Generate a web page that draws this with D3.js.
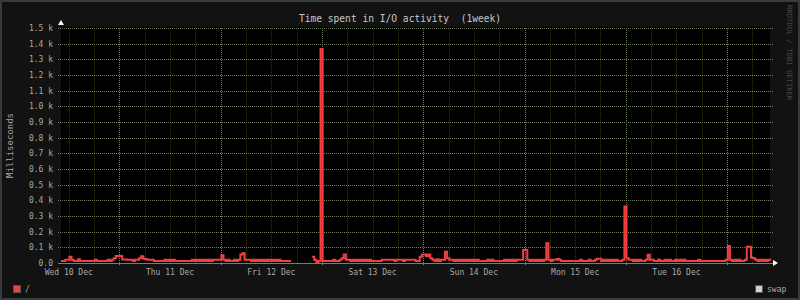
<!DOCTYPE html>
<html>
<head>
<meta charset="utf-8">
<script src="https://cdn.jsdelivr.net/npm/d3@7"></script>
<style>
  html, body { margin: 0; padding: 0; background: #121212; }
  svg { display: block; }
  text { font-family: "DejaVu Sans Mono", monospace; }
</style>
</head>
<body>
<svg width="800" height="300"></svg>
<script>
// chart values (ms, one sample every 30 minutes)
const title = 'Time spent in I/O activity  (1week)';
const yTitle = 'Milliseconds';
const startTime = Date.UTC(2014, 11, 10, 10, 10); // Wed 10 Dec, left edge
const stepMinutes = 30;
const yTicks = [0, 100, 200, 300, 400, 500, 600, 700, 800, 900, 1000, 1100, 1200, 1300, 1400, 1500];
const yTickLabels = ['0.0', '0.1 k', '0.2 k', '0.3 k', '0.4 k', '0.5 k', '0.6 k', '0.7 k', '0.8 k', '0.9 k', '1.0 k', '1.1 k', '1.2 k', '1.3 k', '1.4 k', '1.5 k'];
const seriesNames = ['/', 'swap'];
const rootIo = [
  13, 13, 20, 20, 40, 20, 13, 13, 24, 13, 13, 13, 13, 13, 13, 13, 20, 13, 13, 13, 13, 13, 20, 13,
  20, 30, 45, 45, 45, 22, 22, 20, 20, 20, 13, 20, 20, 30, 43, 27, 24, 20, 20, 20, 13, 13, 13, 13,
  13, 20, 13, 20, 13, 20, 13, 13, 13, 13, 13, 13, 13, 13, 20, 13, 20, 13, 20, 13, 20, 13, 20, 13,
  20, 20, 20, 20, 49, 20, 13, 20, 13, 13, 20, 13, 20, 55, 62, 20, 20, 20, 13, 20, 13, 20, 13, 20,
  13, 20, 13, 20, 13, 20, 13, 20, 13, 13, 13, 13, 13, 13, null, null, null, null, null, null, null, null, null, 40,
  20, 7, 13, 1366, 13, 13, 13, 13, 13, 20, 13, 13, 20, 30, 55, 20, 20, 13, 20, 13, 20, 13, 20, 13,
  20, 13, 20, 13, 13, 13, 13, 13, 20, 20, 20, 20, 20, 20, 13, 20, 20, 20, 13, 20, 20, 20, 20, 20,
  13, 13, 40, 55, 55, 43, 55, 30, 20, 13, 24, 13, 20, 20, 72, 30, 20, 20, 13, 20, 13, 20, 13, 20,
  13, 20, 13, 20, 13, 20, 13, 13, 13, 13, 20, 13, 20, 13, 13, 13, 13, 13, 20, 13, 20, 13, 20, 13,
  20, 20, 20, 83, 83, 20, 13, 20, 13, 20, 13, 20, 13, 20, 126, 20, 13, 20, 20, 25, 20, 13, 13, 13,
  13, 13, 13, 13, 13, 13, 20, 13, 13, 13, 20, 13, 13, 20, 27, 27, 13, 20, 13, 20, 13, 20, 13, 20,
  13, 13, 20, 360, 30, 20, 20, 13, 20, 13, 20, 13, 13, 20, 53, 20, 20, 13, 13, 20, 13, 13, 20, 13,
  20, 13, 13, 20, 13, 20, 13, 20, 13, 13, 13, 13, 13, 13, 20, 13, 13, 13, 13, 13, 13, 13, 13, 13,
  13, 13, 13, 20, 108, 20, 13, 20, 13, 20, 13, 13, 20, 104, 104, 34, 30, 20, 13, 20, 13, 20, 13, 20, 13
];

const svg = d3.select('svg');
const W = 800, H = 300;
const plot = { left: 61, right: 770, top: 28, bottom: 263 };

// frame
svg.append('rect').attr('width', W).attr('height', H).attr('fill', '#3a3a3a');
svg.append('rect').attr('x', 2).attr('y', 2).attr('width', W - 4).attr('height', H - 4).attr('fill', '#121212');
svg.append('rect')
  .attr('x', plot.left).attr('y', plot.top - 1)
  .attr('width', plot.right - plot.left).attr('height', plot.bottom - plot.top + 1)
  .attr('fill', '#000');

const endTime = startTime + 7 * 24 * 3600 * 1000;
const x = d3.scaleUtc().domain([startTime, endTime]).range([plot.left, plot.right]);
const y = d3.scaleLinear().domain([0, 1500]).range([plot.bottom, plot.top]);

const data = rootIo.map((v, i) => ({ t: new Date(startTime + i * stepMinutes * 60000), v }));

const grid = svg.append('g').attr('shape-rendering', 'crispEdges');

// minor vertical grid (6 hours)
const minorTimes = d3.utcHour.every(6).range(new Date(startTime), new Date(endTime))
  .filter(d => d.getUTCHours() !== 0);
grid.selectAll('line.minor').data(minorTimes).join('line')
  .attr('x1', d => Math.round(x(d)) + 0.5).attr('x2', d => Math.round(x(d)) + 0.5)
  .attr('y1', plot.top).attr('y2', plot.bottom)
  .attr('stroke', '#37371c').attr('stroke-dasharray', '1,1');

// major vertical grid (midnight)
const majorTimes = d3.utcDay.range(new Date(startTime), new Date(endTime));
grid.selectAll('line.major').data(majorTimes).join('line')
  .attr('x1', d => Math.round(x(d)) + 0.5).attr('x2', d => Math.round(x(d)) + 0.5)
  .attr('y1', plot.top).attr('y2', plot.bottom + 3)
  .attr('stroke', '#71845f').attr('stroke-dasharray', '1,1');

// horizontal grid
grid.selectAll('line.h').data(yTicks.slice(1)).join('line')
  .attr('x1', plot.left - 3).attr('x2', plot.right + 3)
  .attr('y1', d => Math.round(y(d)) + 0.5).attr('y2', d => Math.round(y(d)) + 0.5)
  .attr('stroke', '#6f8060').attr('stroke-dasharray', '1,1');

// y labels
svg.append('g').selectAll('text').data(yTicks).join('text')
  .attr('x', 53).attr('y', d => y(d) + 3)
  .attr('text-anchor', 'end').attr('font-size', 8).attr('fill', '#a8a8a8')
  .text((d, i) => yTickLabels[i]);

// x labels at noon
const labelTimes = d3.utcHour.range(new Date(startTime), new Date(endTime))
  .filter(d => d.getUTCHours() === 12);
const fmt = d3.utcFormat('%a %d %b');
svg.append('g').selectAll('text').data(labelTimes).join('text')
  .attr('x', d => x(d)).attr('y', 275)
  .attr('text-anchor', 'middle').attr('font-size', 8).attr('fill', '#a8a8a8')
  .text(d => fmt(d));

// the series
const line = d3.line()
  .defined(d => d.v !== null)
  .x(d => x(d.t)).y(d => y(d.v))
  .curve(d3.curveStepAfter);
svg.append('path').datum(data)
  .attr('d', line)
  .attr('fill', 'none').attr('stroke', '#f04040').attr('stroke-width', 2)
  .attr('stroke-linejoin', 'miter');

// axes and arrows
svg.append('line')
  .attr('x1', plot.left - 3).attr('x2', plot.right + 3)
  .attr('y1', plot.bottom + 0.5).attr('y2', plot.bottom + 0.5)
  .attr('stroke', '#7a7a7a').attr('shape-rendering', 'crispEdges');
svg.append('path')
  .attr('d', `M${plot.left - 3},${plot.top - 3}L${plot.left + 3},${plot.top - 3}L${plot.left},${plot.top - 8}Z`)
  .attr('fill', '#fff');
svg.append('path')
  .attr('d', `M${plot.right + 3},${plot.bottom - 3}L${plot.right + 3},${plot.bottom + 3}L${plot.right + 8},${plot.bottom}Z`)
  .attr('fill', '#fff');

// titles
svg.append('text').attr('x', 400).attr('y', 22).attr('text-anchor', 'middle')
  .attr('font-size', 9.6).attr('fill', '#c8c8c8').attr('xml:space', 'preserve').text(title);
svg.append('text')
  .attr('transform', `translate(13, ${(plot.top + plot.bottom) / 2}) rotate(-90)`)
  .attr('text-anchor', 'middle').attr('font-size', 9).attr('fill', '#a8a8a8').text(yTitle);
svg.append('text')
  .attr('transform', 'translate(787, 5) rotate(90)')
  .attr('font-size', 7.2).attr('fill', '#484848').text('RRDTOOL / TOBI OETIKER');

// legend
const legendColors = ['#f04040', '#d0d0d0'];
const legendX = [13, 755];
const legend = svg.append('g').selectAll('g').data(seriesNames).join('g')
  .attr('transform', (d, i) => `translate(${legendX[i]}, 285)`);
legend.append('rect').attr('x', 0.5).attr('y', 0.5).attr('width', 7).attr('height', 7)
  .attr('fill', (d, i) => legendColors[i]).attr('stroke', '#555');
legend.append('text').attr('x', 12).attr('y', 7)
  .attr('font-size', 8).attr('fill', '#a8a8a8').text(d => d);
</script>
</body>
</html>
